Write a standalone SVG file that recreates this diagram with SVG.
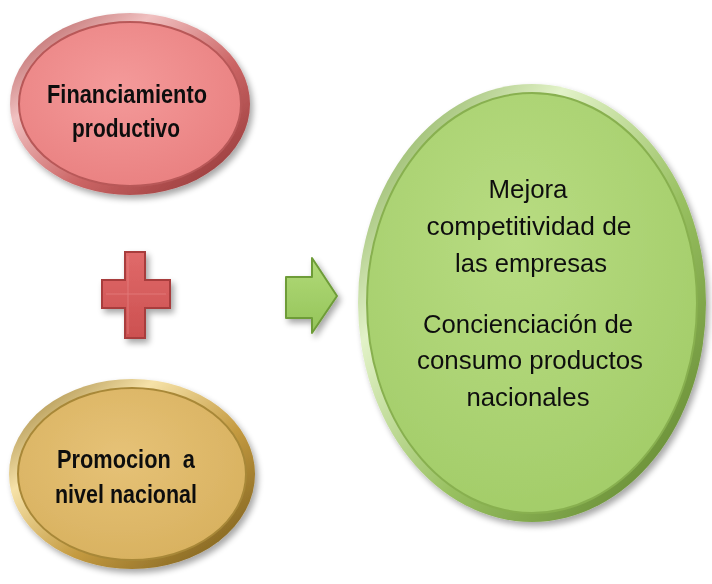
<svg xmlns="http://www.w3.org/2000/svg" width="712" height="584" viewBox="0 0 712 584">
<style>
.lbl{font-family:"Liberation Sans",Arial,sans-serif;fill:#111;text-anchor:middle}
.b{font-weight:bold;font-size:25px}
.r{font-size:25px}
</style>
<defs>
<filter id="sh" x="-20%" y="-20%" width="140%" height="140%">
<feGaussianBlur in="SourceAlpha" stdDeviation="3"/>
<feOffset dx="3" dy="4" result="o"/>
<feComponentTransfer><feFuncA type="linear" slope="0.35"/></feComponentTransfer>
<feMerge><feMergeNode/><feMergeNode in="SourceGraphic"/></feMerge>
</filter>
<radialGradient id="gRed" cx="0.45" cy="0.4" r="0.65">
<stop offset="0" stop-color="#f49a9a"/><stop offset="1" stop-color="#e98080"/>
</radialGradient>
<linearGradient id="rRed" x1="0" y1="0" x2="1" y2="1">
<stop offset="0" stop-color="#a84848"/><stop offset="0.3" stop-color="#f0c0c0"/><stop offset="0.6" stop-color="#c66"/><stop offset="1" stop-color="#8a3030"/>
</linearGradient>
<radialGradient id="gGold" cx="0.45" cy="0.4" r="0.65">
<stop offset="0" stop-color="#e6c277"/><stop offset="1" stop-color="#d8b15f"/>
</radialGradient>
<linearGradient id="rGold" x1="0" y1="0" x2="1" y2="1">
<stop offset="0" stop-color="#8e7028"/><stop offset="0.3" stop-color="#f6e2a8"/><stop offset="0.6" stop-color="#c49a40"/><stop offset="1" stop-color="#6e5418"/>
</linearGradient>
<radialGradient id="gGreen" cx="0.45" cy="0.35" r="0.7">
<stop offset="0" stop-color="#b8dc82"/><stop offset="1" stop-color="#a2cc68"/>
</radialGradient>
<linearGradient id="rGreen" x1="0" y1="0" x2="1" y2="1">
<stop offset="0" stop-color="#6e9a38"/><stop offset="0.3" stop-color="#e2f2c8"/><stop offset="0.6" stop-color="#98c060"/><stop offset="1" stop-color="#587c28"/>
</linearGradient>
<linearGradient id="gPlus" x1="0" y1="0" x2="0" y2="1">
<stop offset="0" stop-color="#e06a6a"/><stop offset="1" stop-color="#cc5050"/>
</linearGradient>
<linearGradient id="gArrow" x1="0" y1="0" x2="0" y2="1">
<stop offset="0" stop-color="#b2da78"/><stop offset="1" stop-color="#94c45a"/>
</linearGradient>
</defs>

<g id="node-financiamiento" filter="url(#sh)">
<ellipse cx="130" cy="104" rx="120" ry="91" fill="url(#rRed)"/>
<ellipse cx="130" cy="104" rx="111" ry="82" fill="url(#gRed)" stroke="#b85858" stroke-width="2"/>
<text class="lbl b" x="127" y="103" textLength="160" lengthAdjust="spacingAndGlyphs">Financiamiento</text>
<text class="lbl b" x="126" y="137" textLength="108" lengthAdjust="spacingAndGlyphs">productivo</text>
</g>

<g id="node-promocion" filter="url(#sh)">
<ellipse cx="132" cy="474" rx="123" ry="95" fill="url(#rGold)"/>
<ellipse cx="132" cy="474" rx="114" ry="86" fill="url(#gGold)" stroke="#a88838" stroke-width="2"/>
<text class="lbl b" x="126" y="468" textLength="138" lengthAdjust="spacingAndGlyphs" style="white-space:pre">Promocion  a</text>
<text class="lbl b" x="126" y="503" textLength="142" lengthAdjust="spacingAndGlyphs">nivel nacional</text>
</g>

<g id="plus" filter="url(#sh)">
<path d="M125 252 H145 V280 H170 V308 H145 V338 H125 V308 H102 V280 H125 Z" fill="url(#gPlus)" stroke="#a83c3c" stroke-width="2"/>
<path d="M128 256 V334 M106 294 H166" stroke="#e88a8a" stroke-width="1" opacity="0.6"/>
</g>

<g id="node-resultado" filter="url(#sh)">
<ellipse cx="532" cy="303" rx="174" ry="219" fill="url(#rGreen)"/>
<ellipse cx="532" cy="303" rx="165" ry="210" fill="url(#gGreen)" stroke="#88b050" stroke-width="2"/>
<text class="lbl r" x="528" y="198" textLength="79" lengthAdjust="spacingAndGlyphs">Mejora</text>
<text class="lbl r" x="529" y="235" textLength="205" lengthAdjust="spacingAndGlyphs">competitividad de</text>
<text class="lbl r" x="531" y="272" textLength="152" lengthAdjust="spacingAndGlyphs">las empresas</text>
<text class="lbl r" x="528" y="333" textLength="210" lengthAdjust="spacingAndGlyphs">Concienciación de</text>
<text class="lbl r" x="530" y="369" textLength="226" lengthAdjust="spacingAndGlyphs">consumo productos</text>
<text class="lbl r" x="528" y="406" textLength="123" lengthAdjust="spacingAndGlyphs">nacionales</text>
</g>

<g id="connectors" filter="url(#sh)">
<path d="M286 277 H312 V258 L337 296 L312 333 V318 H286 Z" fill="url(#gArrow)" stroke="#6e9c38" stroke-width="2" stroke-linejoin="round"/>
</g>
</svg>
